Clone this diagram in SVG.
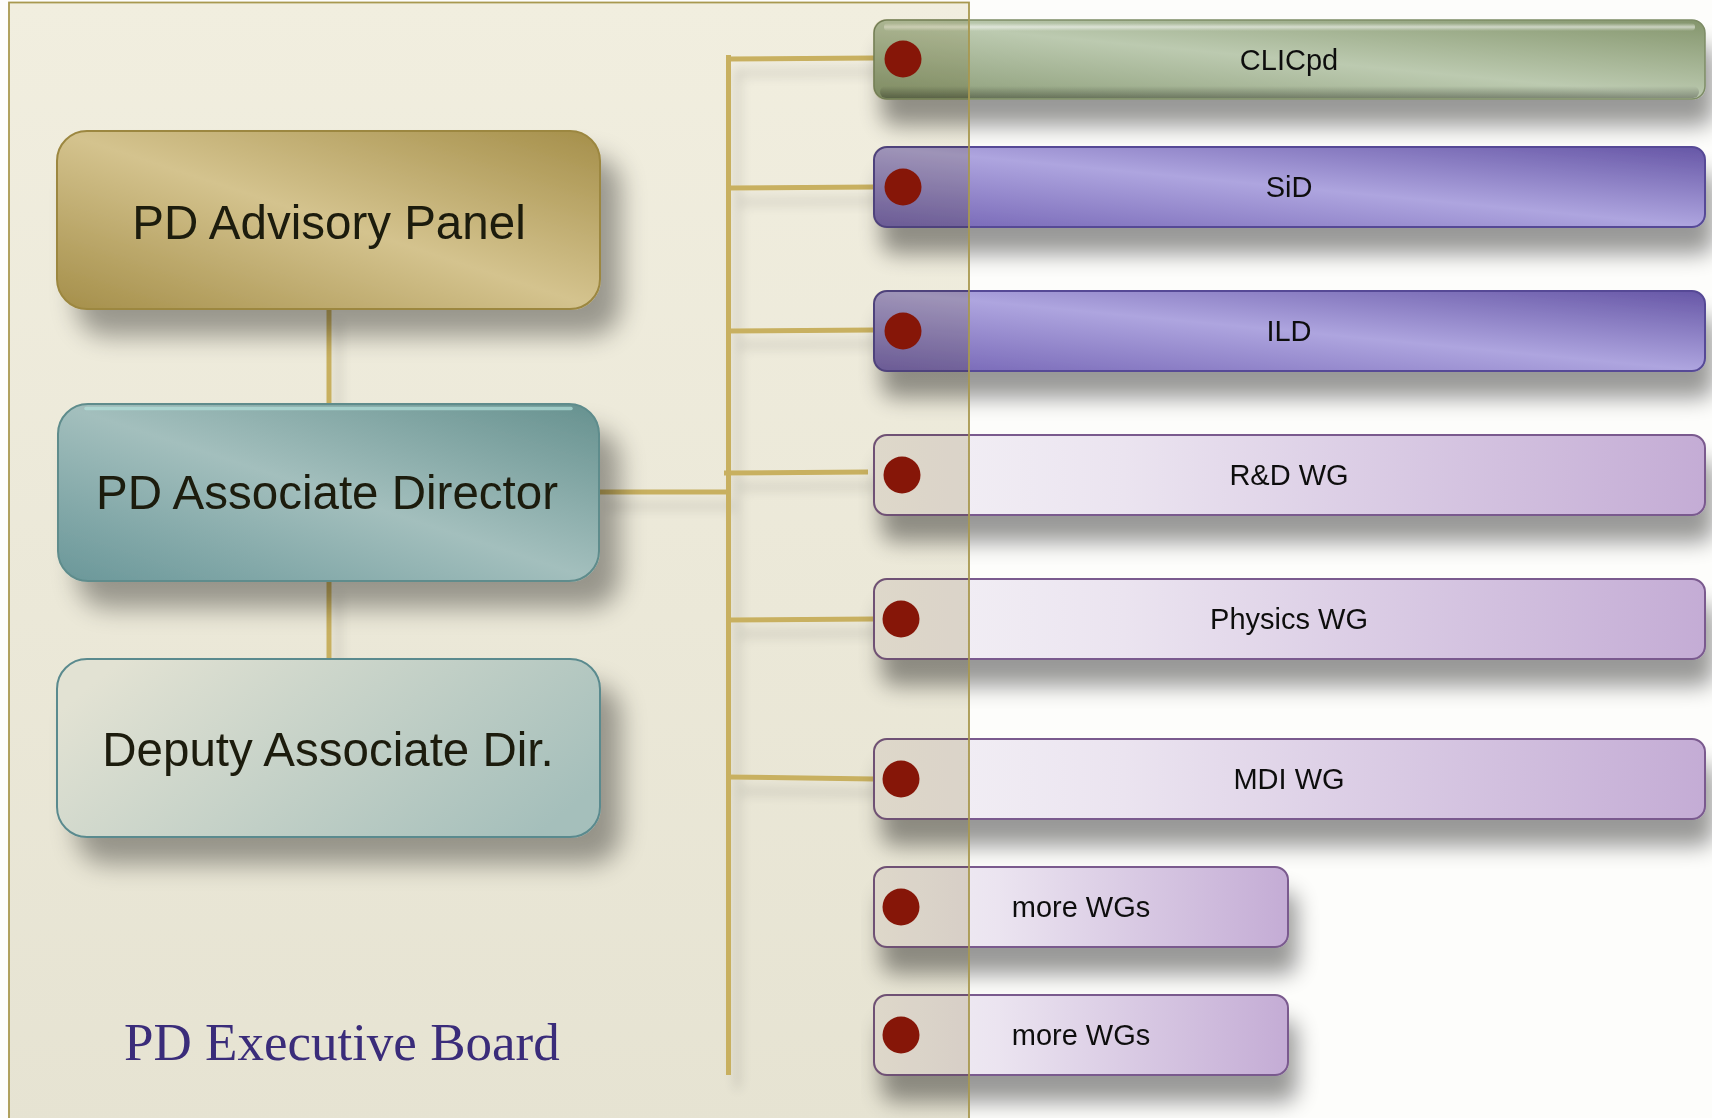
<svg xmlns="http://www.w3.org/2000/svg" width="1712" height="1118" viewBox="0 0 1712 1118">
<defs>
  <linearGradient id="gFrame" x1="0" y1="0" x2="0" y2="1">
    <stop offset="0" stop-color="#f1eedf"/>
    <stop offset="1" stop-color="#e6e3d2"/>
  </linearGradient>
  <linearGradient id="gGold" x1="1" y1="0" x2="0" y2="1">
    <stop offset="0" stop-color="#a58f4a"/>
    <stop offset="0.5" stop-color="#d4c38e"/>
    <stop offset="1" stop-color="#a58f4a"/>
  </linearGradient>
  <linearGradient id="gTeal" x1="1" y1="0" x2="0" y2="1">
    <stop offset="0" stop-color="#66918f"/>
    <stop offset="0.5" stop-color="#a3bfbd"/>
    <stop offset="1" stop-color="#6a9799"/>
  </linearGradient>
  <linearGradient id="gDeputy" x1="0" y1="0.3" x2="1" y2="0.7">
    <stop offset="0" stop-color="#e2e2d3"/>
    <stop offset="1" stop-color="#a5bfbb"/>
  </linearGradient>
  <linearGradient id="gGreen" x1="1" y1="0" x2="0" y2="1">
    <stop offset="0" stop-color="#84956c"/>
    <stop offset="0.5" stop-color="#bccab0"/>
    <stop offset="1" stop-color="#8a9b76"/>
  </linearGradient>
  <linearGradient id="gPurple" x1="1" y1="0" x2="0" y2="1">
    <stop offset="0" stop-color="#6656a6"/>
    <stop offset="0.5" stop-color="#aea5df"/>
    <stop offset="1" stop-color="#7565b5"/>
  </linearGradient>
  <linearGradient id="gWG" x1="0" y1="0" x2="1" y2="0">
    <stop offset="0" stop-color="#f4f2f6"/>
    <stop offset="0.3" stop-color="#ebe4f0"/>
    <stop offset="1" stop-color="#c4acd5"/>
  </linearGradient>
  <linearGradient id="gHi" x1="0" y1="0" x2="0" y2="1">
    <stop offset="0" stop-color="#ffffff" stop-opacity="0"/>
    <stop offset="0.5" stop-color="#ffffff" stop-opacity="0.55"/>
    <stop offset="1" stop-color="#ffffff" stop-opacity="0"/>
  </linearGradient>
  <linearGradient id="gLo" x1="0" y1="0" x2="0" y2="1">
    <stop offset="0" stop-color="#000000" stop-opacity="0"/>
    <stop offset="1" stop-color="#000000" stop-opacity="0.3"/>
  </linearGradient>
  <filter id="shadow" x="-15%" y="-25%" width="140%" height="190%">
    <feGaussianBlur in="SourceAlpha" stdDeviation="13"/>
    <feOffset dx="20" dy="26" result="b"/>
    <feComponentTransfer><feFuncA type="linear" slope="0.36"/></feComponentTransfer>
    <feMerge><feMergeNode/><feMergeNode in="SourceGraphic"/></feMerge>
  </filter>
  <filter id="shadowR" x="-5%" y="-30%" width="115%" height="230%">
    <feGaussianBlur in="SourceAlpha" stdDeviation="11"/>
    <feOffset dx="8" dy="26" result="b"/>
    <feComponentTransfer><feFuncA type="linear" slope="0.4"/></feComponentTransfer>
    <feMerge><feMergeNode/><feMergeNode in="SourceGraphic"/></feMerge>
  </filter>
  <filter id="lineShadow" x="-20%" y="-20%" width="140%" height="140%">
    <feGaussianBlur in="SourceAlpha" stdDeviation="6"/>
    <feOffset dx="9" dy="14"/>
    <feComponentTransfer><feFuncA type="linear" slope="0.16"/></feComponentTransfer>
    <feMerge><feMergeNode/><feMergeNode in="SourceGraphic"/></feMerge>
  </filter>
  <clipPath id="clipBoxes">
    <rect x="873" y="19" width="833" height="81" rx="13"/>
    <rect x="873" y="146" width="833" height="82" rx="13"/>
    <rect x="873" y="290" width="833" height="82" rx="13"/>
    <rect x="873" y="434" width="833" height="82" rx="13"/>
    <rect x="873" y="578" width="833" height="82" rx="13"/>
    <rect x="873" y="738" width="833" height="82" rx="13"/>
    <rect x="873" y="866" width="416" height="82" rx="13"/>
    <rect x="873" y="994" width="416" height="82" rx="13"/>
  </clipPath>
</defs>
<style>
  .big { font-family: "Liberation Sans", Arial, sans-serif; font-size: 47.5px; fill: #1c1a0c; text-anchor: middle; }
  .lbl { font-family: "Liberation Sans", Arial, sans-serif; font-size: 29px; fill: #111111; text-anchor: middle; }
  .conn { stroke: #c8b060; stroke-width: 5; fill: none; }
  .dot { fill: #861608; }
  .wg { fill: url(#gWG); stroke: #7a5a8e; stroke-width: 2; }
  .det { fill: url(#gPurple); stroke: #574a96; stroke-width: 2; }
</style>

<!-- page background -->
<rect x="0" y="0" width="1712" height="1118" fill="#fdfdfb"/>
<!-- frame background -->
<rect id="frame-bg" x="9" y="2.5" width="960" height="1130" fill="url(#gFrame)"/>

<!-- connectors -->
<g id="connectors" filter="url(#lineShadow)">
  <path class="conn" d="M329 308 V405"/>
  <path class="conn" d="M329 580 V660"/>
  <path class="conn" d="M598 492 H730"/>
  <path class="conn" d="M728.5 55 V1075"/>
  <path class="conn" d="M728 59 L874 58"/>
  <path class="conn" d="M728 188 L874 187"/>
  <path class="conn" d="M728 331 L874 330"/>
  <path class="conn" d="M724 473 L868 472"/>
  <path class="conn" d="M728 620 L874 619"/>
  <path class="conn" d="M728 777 L874 779"/>
</g>

<!-- left nodes -->
<g id="node-advisory" filter="url(#shadow)">
  <rect x="57" y="131" width="543" height="178" rx="30" fill="url(#gGold)" stroke="#9c8740" stroke-width="2"/>
  <text class="big" x="329" y="239">PD Advisory Panel</text>
</g>
<g id="node-assocdir" filter="url(#shadow)">
  <rect x="58" y="404" width="541" height="177" rx="30" fill="url(#gTeal)" stroke="#5e8c8c" stroke-width="2"/>
  <path d="M86 408.5 H571" stroke="#b4e2dc" stroke-width="3.5" stroke-linecap="round" opacity="0.7"/>
  <text class="big" x="327" y="509">PD Associate Director</text>
</g>
<g id="node-deputy" filter="url(#shadow)">
  <rect x="57" y="659" width="543" height="178" rx="30" fill="url(#gDeputy)" stroke="#5a8a8e" stroke-width="2"/>
  <text class="big" x="328" y="766">Deputy Associate Dir.</text>
</g>

<!-- right nodes -->
<g id="node-clicpd" filter="url(#shadowR)">
  <rect x="874" y="20" width="831" height="79" rx="13" fill="url(#gGreen)" stroke="#7d8c66" stroke-width="1.5"/>
  <rect x="884" y="23" width="811" height="8" rx="4" fill="url(#gHi)"/>
  <rect x="880" y="86" width="819" height="12" rx="6" fill="url(#gLo)"/>
  <text class="lbl" x="1289" y="70">CLICpd</text>
</g>
<g id="node-sid" filter="url(#shadowR)">
  <rect class="det" x="874" y="147" width="831" height="80" rx="13"/>
  <text class="lbl" x="1289" y="197">SiD</text>
</g>
<g id="node-ild" filter="url(#shadowR)">
  <rect class="det" x="874" y="291" width="831" height="80" rx="13"/>
  <text class="lbl" x="1289" y="341">ILD</text>
</g>
<g id="node-rnd" filter="url(#shadowR)">
  <rect class="wg" x="874" y="435" width="831" height="80" rx="13"/>
  <text class="lbl" x="1289" y="485">R&amp;D WG</text>
</g>
<g id="node-physics" filter="url(#shadowR)">
  <rect class="wg" x="874" y="579" width="831" height="80" rx="13"/>
  <text class="lbl" x="1289" y="629">Physics WG</text>
</g>
<g id="node-mdi" filter="url(#shadowR)">
  <rect class="wg" x="874" y="739" width="831" height="80" rx="13"/>
  <text class="lbl" x="1289" y="789">MDI WG</text>
</g>
<g id="node-more1" filter="url(#shadowR)">
  <rect class="wg" x="874" y="867" width="414" height="80" rx="13"/>
  <text class="lbl" x="1081" y="917">more WGs</text>
</g>
<g id="node-more2" filter="url(#shadowR)">
  <rect class="wg" x="874" y="995" width="414" height="80" rx="13"/>
  <text class="lbl" x="1081" y="1045">more WGs</text>
</g>

<!-- translucent frame overlay over right boxes (multiply tint) -->
<rect x="870" y="2.5" width="99" height="1130" fill="#e8e4d2" clip-path="url(#clipBoxes)" style="mix-blend-mode: multiply"/>
<!-- frame border -->
<rect id="frame" x="9" y="2.5" width="960" height="1130" fill="none" stroke="#a8984f" stroke-width="1.8"/>

<!-- dots -->
<g id="dots">
  <circle class="dot" cx="903" cy="59" r="18.5"/>
  <circle class="dot" cx="903" cy="187" r="18.5"/>
  <circle class="dot" cx="903" cy="331" r="18.5"/>
  <circle class="dot" cx="902" cy="475" r="18.5"/>
  <circle class="dot" cx="901" cy="619" r="18.5"/>
  <circle class="dot" cx="901" cy="779" r="18.5"/>
  <circle class="dot" cx="901" cy="907" r="18.5"/>
  <circle class="dot" cx="901" cy="1035" r="18.5"/>
</g>

<text id="board-title" x="124" y="1060" font-family="'Liberation Serif', 'Times New Roman', serif" font-size="53" fill="#3a2c7a">PD Executive Board</text>
</svg>
